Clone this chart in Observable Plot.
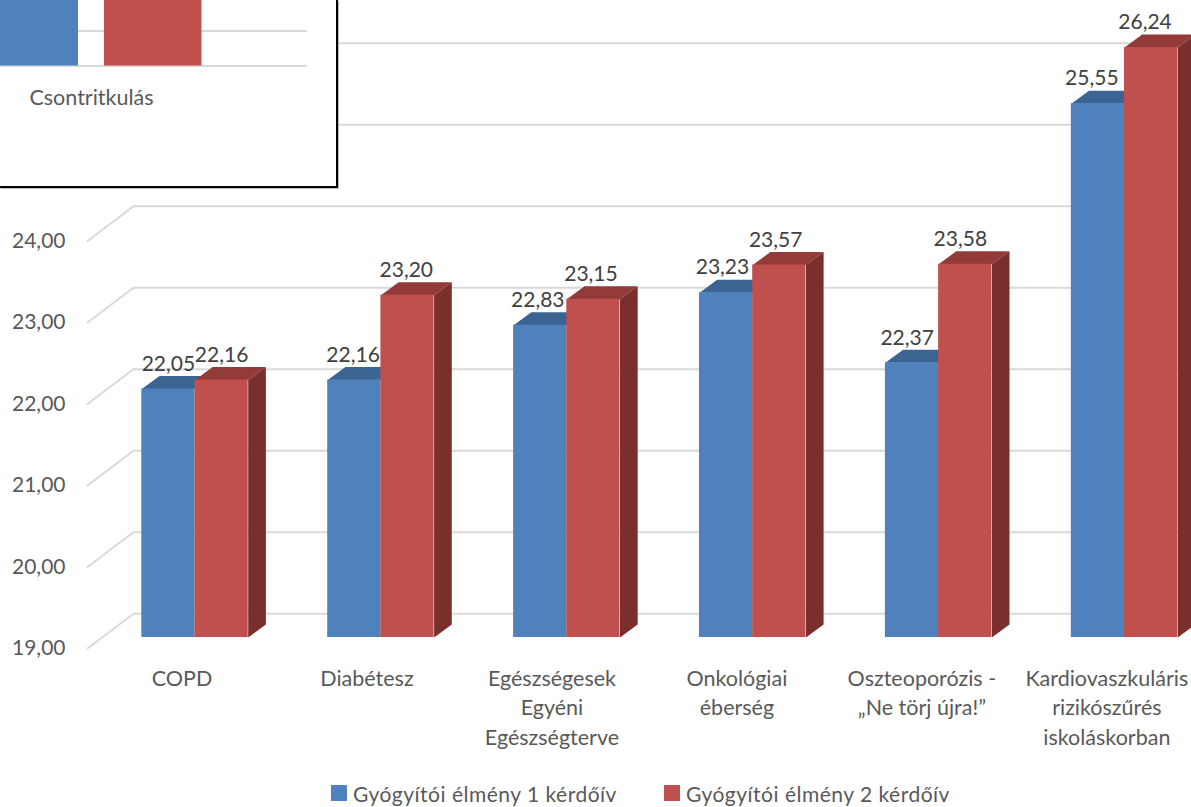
<!DOCTYPE html>
<html lang="hu">
<head>
<meta charset="utf-8">
<script src="https://cdn.jsdelivr.net/npm/d3@7"></script>
<script src="https://cdn.jsdelivr.net/npm/@observablehq/plot@0.6"></script>
<style>
html,body{margin:0;padding:0;background:#fff;overflow:hidden}
#stage{position:relative;width:1191px;height:807px;font-family:Lato,sans-serif}
#inset{position:absolute;left:0;top:0;width:336px;height:186px;background:#fff;border-right:2px solid #000;border-bottom:2px solid #000;box-shadow:1px 1px 0 #bbb}
#inset svg,#main svg{display:block}
#legend{position:absolute;left:331px;top:781px;display:flex;align-items:center;font-size:21px;letter-spacing:.5px;color:#595959;height:24px;white-space:nowrap}
#legend i{display:inline-block;width:16px;height:16px;margin-right:6px}
#legend span{display:flex;align-items:center;width:333px}
</style>
</head>
<body>
<div id="stage"><div id="main"></div><div id="inset"></div><div id="legend"></div></div>
<script>
const categories = ["COPD","Diabétesz","Egészségesek\nEgyéni\nEgészségterve","Onkológiai\néberség","Oszteoporózis -\n„Ne törj újra!”","Kardiovaszkuláris\nrizikószűrés\niskoláskorban"];
const series1Name = "Gyógyítói élmény 1 kérdőív";
const series2Name = "Gyógyítói élmény 2 kérdőív";
const series1 = [22.05,22.16,22.83,23.23,22.37,25.55];
const series2 = [22.16,23.20,23.15,23.57,23.58,26.24];
const tickValues = [19,20,21,22,23,24,25,26];
const insetCategory = "Csontritkulás";
const insetValues = [2,2];
const insetGrid = [0,1];

const fmt = v => v.toFixed(2).replace(".",",");
const C = {blue:"#4F81BD",blueTop:"#3C6492",blueSide:"#2F4F75",red:"#C0504D",redTop:"#923B39",redSide:"#7A2F2D"};
const W = 1191, H = 807;
const pxX = 185.9, pxY = 81.5;

// geometry of the pseudo-3D projection, in scale units
const barW = 53.2/pxX, depthX = 17.7/pxX, depthY = 13/pxY, wallY = 23.7/pxY, wallLeft = -61.5/pxX, floorLeft = -107.5/pxX, floorY = -11/pxY;

const bars = [];
categories.forEach((c,i)=>{
  bars.push({i,s:0,v:series1[i],x1:i-barW,x2:i,fill:C.blue,top:C.blueTop,side:C.blueSide});
  bars.push({i,s:1,v:series2[i],x1:i,x2:i+barW,fill:C.red,top:C.redTop,side:C.redSide});
});
const facePoly = b => {
  const id = `${b.i}-${b.s}`;
  return {
    top:[[b.x1,b.v],[b.x2,b.v],[b.x2+depthX,b.v+depthY],[b.x1+depthX,b.v+depthY]].map(([x,y])=>({id,x,y})),
    side:[[b.x2,19],[b.x2,b.v],[b.x2+depthX,b.v+depthY],[b.x2+depthX,19+depthY]].map(([x,y])=>({id,x,y}))
  };
};

const xDomain = [-194.5/pxX,(W-194.5)/pxX];
const yDomain = [19-170/pxY,19+637/pxY];

const marks = [];
const wall = tickValues.flatMap(t=>[
  {t,x:floorLeft,y:t+floorY},
  {t,x:wallLeft,y:t+wallY},
  {t,x:xDomain[1],y:t+wallY}
]);
marks.push(Plot.line(wall,{x:"x",y:"y",z:"t",stroke:"#d9d9d9",strokeWidth:2,curve:"linear"}));
for(const s of [0,1]){
  for(const b of bars.filter(d=>d.s===s)){
    const f = facePoly(b);
    marks.push(Plot.line(f.top,{x:"x",y:"y",z:"id",fill:b.top,stroke:"none",curve:"linear"}));
    marks.push(Plot.line(f.side,{x:"x",y:"y",z:"id",fill:b.side,stroke:"none",curve:"linear"}));
  }
  marks.push(Plot.rect(bars.filter(d=>d.s===s),{x1:"x1",x2:"x2",y1:()=>19,y2:"v",fill:"fill"}));
}
marks.push(Plot.text(tickValues.filter(t=>t<=24),{
  x:()=>-129.5/pxX,y:d=>d+floorY,text:fmt,textAnchor:"end",dy:0,
  fontSize:21,fill:"#595959",style:{letterSpacing:"0.66px"}
}));
marks.push(Plot.text(bars,{
  x:d=>d.i*0.9935+(d.x1+d.x2)/2-d.i,y:"v",text:d=>fmt(d.v),dy:-25,
  fontSize:21,fill:"#404040",style:{letterSpacing:"0.66px"}
}));
marks.push(Plot.text(categories,{
  x:(d,i)=>i*0.995-13/pxX,y:()=>19,text:d=>d,dy:27.5,lineAnchor:"top",lineHeight:1.372,
  fontSize:21.5,fill:"#595959",style:{letterSpacing:"0.8px"}
}));

const main = Plot.plot({
  width:W,height:H,margin:0,style:{fontFamily:"Lato,sans-serif",background:"#fff"},
  x:{type:"linear",domain:xDomain,range:[0,W],axis:null},
  y:{type:"linear",domain:yDomain,range:[H,0],axis:null},
  marks
});
document.getElementById("main").appendChild(main);

// inset chart pasted over the top-left corner; x in bar widths, y in gridline steps
const insetBars = [
  {x1:-1.133,x2:-0.133,v:insetValues[0],fill:C.blue},
  {x1:0.133,x2:1.133,v:insetValues[1],fill:C.red}
];
const insetPlot = Plot.plot({
  width:336,height:186,margin:0,style:{fontFamily:"Lato,sans-serif",background:"#fff"},
  x:{type:"linear",domain:[-91/97.5,(336-91)/97.5],range:[0,336],axis:null},
  y:{type:"linear",domain:[65.5/35,(65.5-186)/35],range:[0,186],axis:null},
  marks:[
    Plot.ruleY(insetGrid,{y:d=>d,x1:-91/97.5,x2:2.215,stroke:"#d9d9d9",strokeWidth:2}),
    Plot.rect(insetBars,{x1:"x1",x2:"x2",y1:()=>0,y2:"v",fill:"fill"}),
    Plot.text([insetCategory],{x:()=>0,y:()=>0,text:d=>d,dy:32,fontSize:21.5,fill:"#595959",style:{letterSpacing:"0.77px"}})
  ]
});
document.getElementById("inset").appendChild(insetPlot);

// legend
const legend = document.getElementById("legend");
[[series1Name,C.blue],[series2Name,C.red]].forEach(([n,c])=>{
  const s = document.createElement("span");
  const sw = document.createElement("i"); sw.style.background = c;
  s.appendChild(sw); s.appendChild(document.createTextNode(n));
  legend.appendChild(s);
});
</script>
</body>
</html>
